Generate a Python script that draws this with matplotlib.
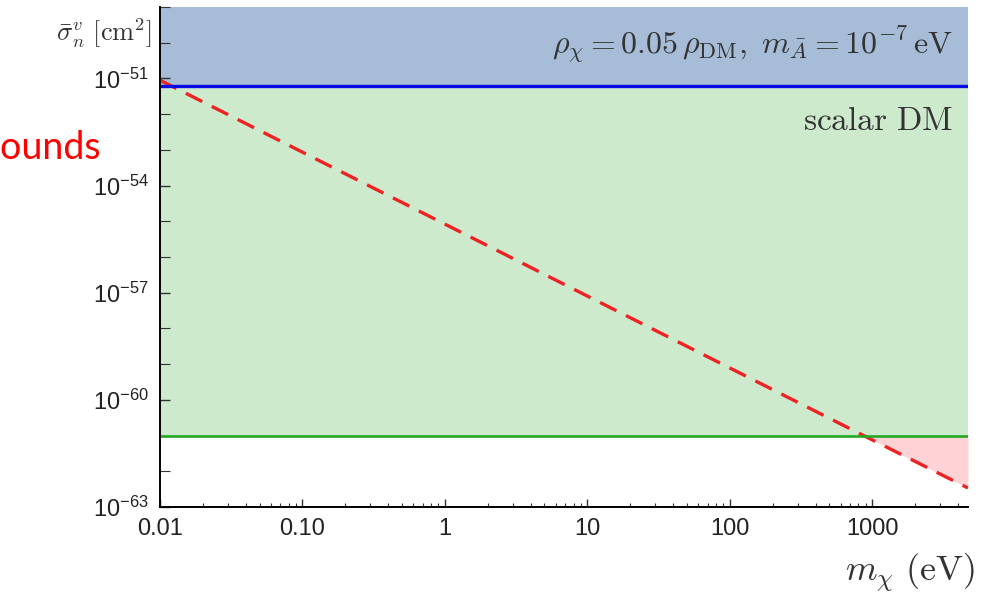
import numpy as np
import matplotlib
matplotlib.use('Agg')
import matplotlib.pyplot as plt
from matplotlib import font_manager
from matplotlib.ticker import LogLocator, NullFormatter

# tick labels in the reference use a narrow Arial-like face
names = {f.name for f in font_manager.fontManager.ttflist}
tick_font = 'Liberation Sans Narrow' if 'Liberation Sans Narrow' in names else 'Liberation Sans'

plt.rcParams['mathtext.fontset'] = 'custom'
plt.rcParams['mathtext.rm'] = tick_font
plt.rcParams['mathtext.it'] = tick_font + ':italic'
plt.rcParams['font.family'] = [tick_font, 'DejaVu Sans']

# data
mass_limits = [0.01, 4700]                 # eV
sigma_limits = [1e-63, 1e-49]              # cm^2
blue_bound = 6.3e-52                       # upper bound line
green_bound = 1e-61                        # lower bound line
red_mass = [0.01, 870, 4700]               # dashed red line (eV)
red_sigma = [8.9e-52, 1e-61, 3.4e-63]

xtick_vals = [0.01, 0.1, 1, 10, 100, 1000]
xtick_labels = ['0.01', '0.10', '1', '10', '100', '1000']
ytick_vals = [1e-63, 1e-60, 1e-57, 1e-54, 1e-51]
ytick_labels = [r'$\mathrm{10^{-63}}$', r'$\mathrm{10^{-60}}$', r'$\mathrm{10^{-57}}$',
                r'$\mathrm{10^{-54}}$', r'$\mathrm{10^{-51}}$']
yminor_vals = [10.0 ** k for k in range(-63, -48)]

fig = plt.figure(figsize=(9.93, 5.95), dpi=100)
ax = fig.add_axes([160 / 993, 1 - 507 / 595, 808 / 993, 500 / 595])
ax.set_xscale('log')
ax.set_yscale('log')
ax.set_xlim(mass_limits)
ax.set_ylim(sigma_limits)

# shaded regions
ax.axhspan(blue_bound, sigma_limits[1], color='#a6bcd7', lw=0, zorder=0)
ax.axhspan(green_bound, blue_bound, color='#cdeacc', lw=0, zorder=0)
ax.fill_between(red_mass[1:], red_sigma[1:], green_bound, color='#ffd3d6', lw=0, zorder=1)

# lines
ax.plot(red_mass, red_sigma, color='#ee2222', lw=2.4, dashes=(5.5, 3.2), zorder=2)
ax.axhline(blue_bound, color='#0a0ae6', lw=2.4, zorder=3)
ax.axhline(green_bound, color='#22a822', lw=1.9, zorder=3)

# axes styling
for s in ['top', 'right']:
    ax.spines[s].set_visible(False)
for s in ['left', 'bottom']:
    ax.spines[s].set_linewidth(1.4)
    ax.spines[s].set_zorder(5)

ax.set_xticks(xtick_vals)
ax.set_xticklabels(xtick_labels)
ax.xaxis.set_minor_locator(LogLocator(base=10, subs=np.arange(2, 10), numticks=20))
ax.xaxis.set_minor_formatter(NullFormatter())
ax.set_yticks(ytick_vals)
ax.set_yticklabels(ytick_labels)
ax.set_yticks(yminor_vals, minor=True)
ax.yaxis.set_minor_formatter(NullFormatter())

ax.tick_params(which='both', direction='in', colors='#333333', labelcolor='#222222')
ax.tick_params(axis='x', which='major', length=6, width=1, labelsize=17, pad=8)
ax.tick_params(axis='x', which='minor', length=3, width=0.8)
ax.tick_params(axis='y', which='major', length=7, width=1, labelsize=17, pad=8)
ax.tick_params(axis='y', which='minor', length=7, width=0.8)

# annotations
ax.text(0.982, 0.925, r'$\rho_\chi = 0.05\,\rho_{\rm DM},\ m_{\bar{A}} = 10^{-7}\,\mathrm{eV}$',
        transform=ax.transAxes, ha='right', va='center', fontsize=23,
        color='#333333', math_fontfamily='cm', zorder=6)
ax.text(0.982, 0.77, r'$\mathrm{scalar\ DM}$', transform=ax.transAxes,
        ha='right', va='center', fontsize=24, color='#333333',
        math_fontfamily='cm', zorder=6)

fig.text(152 / 993, 1 - 33 / 595, r'$\bar{\sigma}_n^v\ [\mathrm{cm}^2]$',
         ha='right', va='center', fontsize=19, color='#333333', math_fontfamily='cm')
fig.text(975 / 993, 1 - 573 / 595, r'$m_\chi\ (\mathrm{eV})$',
         ha='right', va='center', fontsize=26, color='#333333', math_fontfamily='cm')

fig.text(101 / 993, 1 - 148 / 595, 'bounds', ha='right', va='center',
         fontsize=27, color='#ff0000', family=['Lato', 'DejaVu Sans'])

fig.savefig('out.png', dpi=100)
